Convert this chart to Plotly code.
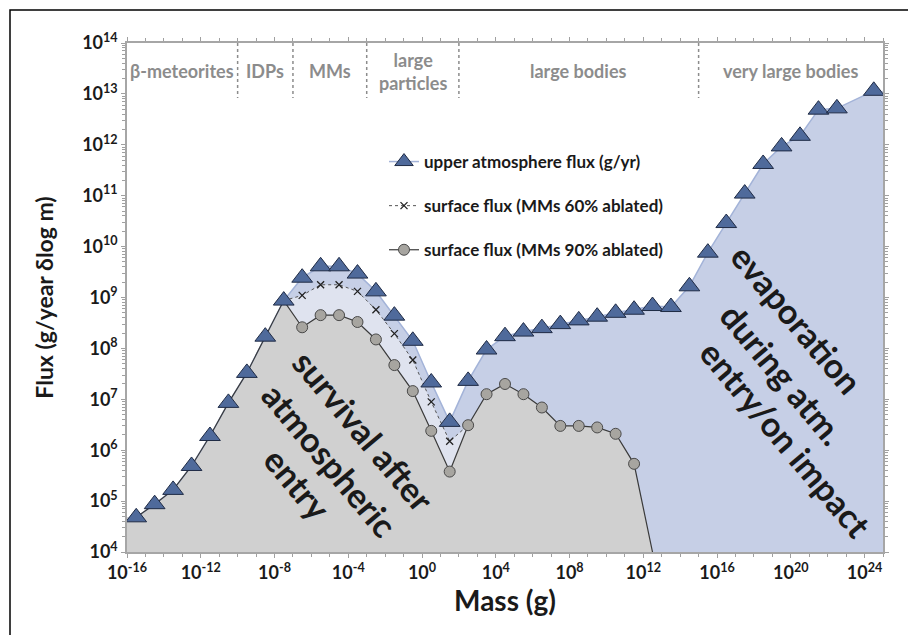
import plotly.graph_objects as go

# ---------------- data ----------------
mass_exp = [-15.5, -14.5, -13.5, -12.5, -11.5, -10.5, -9.5, -8.5, -7.5, -6.5,
            -5.5, -4.5, -3.5, -2.5, -1.5, -0.5, 0.5, 1.5, 2.5, 3.5,
            4.5, 5.5, 6.5, 7.5, 8.5, 9.5, 10.5, 11.5, 12.5, 13.5,
            14.5, 15.5, 16.5, 17.5, 18.5, 19.5, 20.5, 21.5, 22.5, 24.5]

upper_flux = [4.8e4, 8.7e4, 1.66e5, 4.9e5, 1.9e6, 8.5e6, 3.3e7, 1.7e8, 8.7e8, 2.45e9,
              4.1e9, 4.1e9, 2.95e9, 1.32e9, 4.4e8, 1.41e8, 2.14e7, 3.6e6, 2.3e7, 9.5e7,
              1.74e8, 2.14e8, 2.5e8, 3.0e8, 3.55e8, 4.2e8, 5.0e8, 5.75e8, 6.8e8, 6.5e8,
              1.66e9, 7.6e9, 2.9e10, 1.1e11, 4.2e11, 9.3e11, 1.5e12, 4.9e12, 5.2e12, 1.15e13]

# surface flux, MMs 60% ablated (mass 10^-7.5 .. 10^2.5)
flux60 = [8.7e8, 1.1e9, 1.78e9, 1.78e9, 1.32e9, 5.75e8, 1.95e8, 5.9e7, 8.9e6, 1.5e6, 3.1e6]

# surface flux, MMs 90% ablated (mass 10^-15.5 .. 10^12.5)
flux90 = [4.8e4, 8.7e4, 1.66e5, 4.9e5, 1.9e6, 8.5e6, 3.3e7, 1.7e8, 8.7e8,
          2.6e8, 4.5e8, 4.5e8, 3.3e8, 1.5e8, 4.7e7, 1.45e7, 2.4e6, 3.8e5, 3.1e6,
          1.26e7, 2.0e7, 1.26e7, 6.9e6, 3.0e6, 3.0e6, 2.8e6, 2.1e6, 5.4e5, 1.0e4]

region_edges_exp = [-10, -7, -3, 2, 15]
region_names = ["β-meteorites", "IDPs", "MMs", "large<br>particles", "large bodies", "very large bodies"]

x_tick_exp = [-16, -12, -8, -4, 0, 4, 8, 12, 16, 20, 24]
y_tick_exp = [4, 5, 6, 7, 8, 9, 10, 11, 12, 13, 14]

legend_names = ["upper atmosphere flux (g/yr)",
                "surface flux (MMs 60% ablated)",
                "surface flux (MMs 90% ablated)"]

survival_lines = ["survival after", "atmospheric", "entry"]
evaporation_lines = ["evaporation", "during atm.", "entry/on impact"]

# ---------------- layout geometry ----------------
W, H = 908, 635
L, R, T, B = 127, 883, 43, 552
XMIN, XMAX = -16, 25
YMIN, YMAX = 4, 14
BASE = 10.0 ** (YMIN - 1)


def px(xp):
    return (xp - L) / (R - L)


def py(yp):
    return (B - yp) / (B - T)


mass = [10.0 ** e for e in mass_exp]
mass60 = mass[8:19]
mass90 = mass[:29]
XLO, XHI = 10.0 ** XMIN, 10.0 ** XMAX

FONT = "Lato"
DARK = "#1a1a1a"
GREY_TXT = "#8c8c8c"

fig = go.Figure()

# ---- filled areas ----
fig.add_trace(go.Scatter(
    x=[XLO] + mass + [XHI, XHI, XLO],
    y=[upper_flux[0]] + upper_flux + [upper_flux[-1], BASE, BASE],
    fill="toself", fillcolor="#c6cfe6", mode="lines", line=dict(width=0),
    hoverinfo="skip", showlegend=False))
fig.add_trace(go.Scatter(
    x=mass60 + [mass60[-1], mass60[0]],
    y=flux60 + [BASE, BASE],
    fill="toself", fillcolor="#dfe3ef", mode="lines", line=dict(width=0),
    hoverinfo="skip", showlegend=False))
fig.add_trace(go.Scatter(
    x=[XLO] + mass90 + [mass90[-1], XLO],
    y=[flux90[0]] + flux90 + [BASE, BASE],
    fill="toself", fillcolor="#d0d0d0", mode="lines", line=dict(width=0),
    hoverinfo="skip", showlegend=False))

# ---- lines ----
fig.add_trace(go.Scatter(x=mass, y=upper_flux, mode="lines",
                         line=dict(color="#a3b3d8", width=1.5), showlegend=False))
fig.add_trace(go.Scatter(x=mass60, y=flux60, mode="lines",
                         line=dict(color="#555555", width=1, dash="dot"), showlegend=False))
fig.add_trace(go.Scatter(x=mass90, y=flux90, mode="lines",
                         line=dict(color="#3a3a3a", width=1.2), showlegend=False))

# ---- markers ----
tri = dict(symbol="triangle-up", size=18, color="#4f6a9b", line=dict(color="#1f2b45", width=1))
xm = dict(symbol="x-thin", size=7, color="#222222", line=dict(color="#222222", width=1.3))
circ = dict(symbol="circle", size=11, color="#a7a5a0", line=dict(color="#4a4a4a", width=1))

fig.add_trace(go.Scatter(x=mass60[1:10], y=flux60[1:10], mode="markers", marker=xm, showlegend=False))
fig.add_trace(go.Scatter(x=mass90[9:28], y=flux90[9:28], mode="markers", marker=circ, showlegend=False))
fig.add_trace(go.Scatter(x=mass, y=upper_flux, mode="markers", marker=tri, showlegend=False))

# ---- legend entries ----
fig.add_trace(go.Scatter(x=[None], y=[None], mode="lines+markers", name="<b>%s</b>" % legend_names[0],
                         legendgroup="a", line=dict(color="#a3b3d8", width=1.5), marker=tri))
fig.add_trace(go.Scatter(x=[None], y=[None], mode="lines+markers", name="<b>%s</b>" % legend_names[1],
                         legendgroup="b", line=dict(color="#555555", width=1, dash="dot"), marker=xm))
fig.add_trace(go.Scatter(x=[None], y=[None], mode="lines+markers", name="<b>%s</b>" % legend_names[2],
                         legendgroup="c", line=dict(color="#3a3a3a", width=1.2), marker=circ))

# ---- region dividers and labels ----
shapes = []
for e in region_edges_exp:
    shapes.append(dict(type="line", xref="x", yref="paper", x0=10.0 ** e, x1=10.0 ** e,
                       y0=1, y1=py(98), line=dict(color="#8c8c8c", width=1.5, dash="dot")))
# outer frame (only top/left edges fall inside the picture)
shapes.append(dict(type="rect", xref="paper", yref="paper", x0=px(10), x1=px(920),
                   y0=py(650), y1=py(10), line=dict(color="#000000", width=1.5)))

edges = [XMIN] + region_edges_exp + [XMAX]
annotations = []
for i, name in enumerate(region_names):
    annotations.append(dict(x=(edges[i] + edges[i + 1]) / 2, y=py(71), xref="x", yref="paper",
                            text="<b>%s</b>" % name, showarrow=False,
                            font=dict(family=FONT, size=18, color=GREY_TXT),
                            xanchor="center", yanchor="middle"))

survival_pos = [(364, 430), (330, 459), (298, 483)]
evaporation_pos = [(797, 318), (783, 373), (786, 438)]
for txt, (xp, yp) in zip(survival_lines + evaporation_lines, survival_pos + evaporation_pos):
    annotations.append(dict(x=px(xp), y=py(yp), xref="paper", yref="paper",
                            text="<b>%s</b>" % txt, showarrow=False, textangle=50,
                            font=dict(family=FONT, size=34, color=DARK),
                            xanchor="center", yanchor="middle"))

fig.update_layout(
    width=W, height=H,
    margin=dict(l=L, r=W - R, t=T, b=H - B, autoexpand=False),
    paper_bgcolor="white", plot_bgcolor="white",
    font=dict(family=FONT, color=DARK),
    shapes=shapes, annotations=annotations,
    legend=dict(x=px(384), y=py(144), xanchor="left", yanchor="top",
                bgcolor="rgba(0,0,0,0)", traceorder="grouped", tracegroupgap=19,
                font=dict(family=FONT, size=17, color=DARK)),
    hovermode=False,
)

fig.update_xaxes(
    type="log", range=[XMIN, XMAX],
    tickvals=[10.0 ** e for e in x_tick_exp],
    ticktext=["<b>10<sup>%d</sup></b>" % e for e in x_tick_exp],
    tickfont=dict(family=FONT, size=18, color=DARK),
    ticks="outside", ticklen=4, tickcolor="#a0a0a0",
    minor=dict(tickvals=[10.0 ** e for e in range(XMIN, XMAX + 1)], ticks="outside",
               ticklen=3, tickcolor="#a0a0a0"),
    showline=True, linecolor="#a6a6a6", linewidth=1.5, mirror="ticks",
    showgrid=False, zeroline=False,
    title=dict(text="<b>Mass (g)</b>", font=dict(family=FONT, size=28, color=DARK), standoff=4),
)
fig.update_yaxes(
    type="log", range=[YMIN, YMAX],
    tickvals=[10.0 ** e for e in y_tick_exp],
    ticktext=["<b>10<sup>%d</sup></b>" % e for e in y_tick_exp],
    tickfont=dict(family=FONT, size=18, color=DARK),
    ticks="outside", ticklen=4, tickcolor="#a0a0a0",
    minor=dict(dtick="D1", ticks="outside", ticklen=3, tickcolor="#a0a0a0"),
    showline=True, linecolor="#a6a6a6", linewidth=1.5, mirror="ticks",
    showgrid=False, zeroline=False,
    title=dict(text="<b>Flux (g/year δlog m)</b>", font=dict(family=FONT, size=23, color=DARK), standoff=22),
)

fig.write_html("out.html")
